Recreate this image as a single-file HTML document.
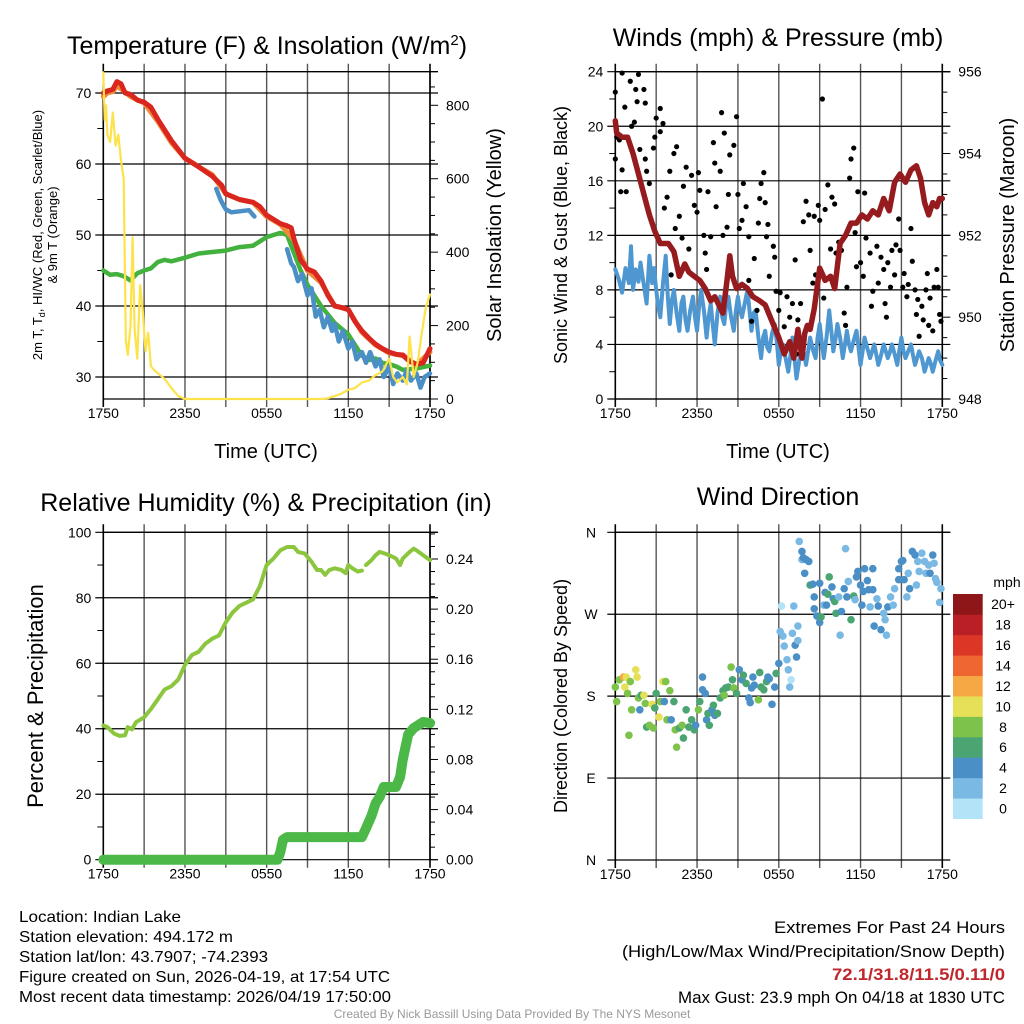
<!DOCTYPE html>
<html><head><meta charset="utf-8"><style>
html,body{margin:0;padding:0;background:#fff;}
svg{display:block;font-family:"Liberation Sans",sans-serif;}
</style></head><body>
<svg id="fig" width="1024" height="1024" viewBox="0 0 1024 1024">
<text x="267" y="54" font-size="25" text-anchor="middle">Temperature (F) &amp; Insolation (W/m<tspan dy="-9" font-size="15">2</tspan><tspan dy="9">)</tspan></text>
<text x="778" y="46" font-size="25" text-anchor="middle">Winds (mph) &amp; Pressure (mb)</text>
<text x="266" y="511" font-size="25" text-anchor="middle">Relative Humidity (%) &amp; Precipitation (in)</text>
<text x="778" y="505" font-size="25" text-anchor="middle">Wind Direction</text>

<text x="266" y="458" font-size="20" text-anchor="middle">Time (UTC)</text>
<text x="778" y="458" font-size="20" text-anchor="middle">Time (UTC)</text>

<text transform="translate(42,235) rotate(-90)" font-size="13" text-anchor="middle">2m T, T<tspan font-size="9" dy="3">d</tspan><tspan dy="-3">, HI/WC (Red, Green, Scarlet/Blue)</tspan></text>
<text transform="translate(57,235) rotate(-90)" font-size="13" text-anchor="middle">&amp; 9m T (Orange)</text>
<text transform="translate(501,235) rotate(-90)" font-size="20" text-anchor="middle">Solar Insolation (Yellow)</text>
<text transform="translate(567,235) rotate(-90)" font-size="18" text-anchor="middle">Sonic Wind &amp; Gust (Blue, Black)</text>
<text transform="translate(1014,235) rotate(-90)" font-size="20" text-anchor="middle">Station Pressure (Maroon)</text>
<text transform="translate(43,696) rotate(-90)" font-size="22" text-anchor="middle">Percent &amp; Precipitation</text>
<text transform="translate(567,696) rotate(-90)" font-size="18" text-anchor="middle">Direction (Colored By Speed)</text>

<g font-size="16">
<text x="19" y="922" textLength="162" lengthAdjust="spacingAndGlyphs">Location: Indian Lake</text>
<text x="19" y="942" textLength="214" lengthAdjust="spacingAndGlyphs">Station elevation: 494.172 m</text>
<text x="19" y="962" textLength="249" lengthAdjust="spacingAndGlyphs">Station lat/lon: 43.7907; -74.2393</text>
<text x="19" y="982" textLength="371" lengthAdjust="spacingAndGlyphs">Figure created on Sun, 2026-04-19, at 17:54 UTC</text>
<text x="19" y="1002" textLength="372" lengthAdjust="spacingAndGlyphs">Most recent data timestamp: 2026/04/19 17:50:00</text>
</g>
<g font-size="17">
<text x="774" y="933" textLength="231" lengthAdjust="spacingAndGlyphs">Extremes For Past 24 Hours</text>
<text x="622" y="957" textLength="383" lengthAdjust="spacingAndGlyphs">(High/Low/Max Wind/Precipitation/Snow Depth)</text>
<text x="832" y="980" textLength="173" lengthAdjust="spacingAndGlyphs" fill="#c0272d" font-weight="bold">72.1/31.8/11.5/0.11/0</text>
<text x="678" y="1003" textLength="327" lengthAdjust="spacingAndGlyphs">Max Gust: 23.9 mph On 04/18 at 1830 UTC</text>
</g>
<text x="512" y="1018" font-size="12" fill="#999" text-anchor="middle">Created By Nick Bassill Using Data Provided By The NYS Mesonet</text>
</svg>
<script>
// ---- data (hours since 1750 UTC) ----
const xTickLabels = ["1750","2350","0550","1150","1750"];
const tempH = [0,0.3,0.7,1,1.3,1.6,2,2.5,3,3.5,4,5,6,7,8,8.7,9,10,11,11.5,12,12.5,13,13.5,13.8,14,14.5,15,15.5,16,16.5,17,17.5,18,18.5,19,19.5,20,20.5,21,21.5,22,22.5,23,23.5,24];
const tempV = [70,70.3,70.5,71.6,71.3,70,69.8,69,68.7,68,66.3,63.3,60.8,59.6,58.3,57,55.8,55,54.6,54,52.8,52.2,51.6,51.3,51,49.5,46.5,45.2,44.8,43.5,41.5,40,39.8,39.5,37.8,36.5,35.5,34.6,34,33.5,33.2,33.1,32.2,31.8,32,34];
const t9H = [0,0.3,0.7,1,1.5,2,3,4,5,6,7,8,9,10,11,12,13,14,15,16,17,18,19,20,21,22,23,24];
const t9V = [69.5,70,70.2,71,70.3,69.5,68.6,66,63,60.8,59.6,58.5,55.8,55,54.6,52.6,51.5,49.3,45,43.3,40,39.5,36.3,34.5,33.4,33,31.7,33.5];
const dewH = [0,0.5,1,1.5,2,2.5,3,3.5,4,4.5,5,6,7,8,9,10,11,12,12.5,13,13.5,14,14.5,15,15.5,16,17,18,18.5,19,19.5,20,20.5,21,21.5,22,23,24];
const dewV = [45,44.4,44.5,44.2,43.6,44.6,45,45.3,46.2,46.5,46.3,46.8,47.4,47.6,47.8,48.3,48.5,49.7,50,50.3,50,47.5,45,43,41.5,40,37.6,36,34.5,33,32.4,32.6,32,31.8,31.5,31,31.2,31.6];
const wcH = [13.5,13.8,14,14.3,14.6,15,15.3,15.6,15.9,16.2,16.5,16.8,17,17.3,17.6,18,18.3,18.6,19,19.3,19.6,20,20.3,20.6,21,21.3,21.6,22,22.3,22.6,23,23.3,23.6,24];
const wcV = [48,46,45.5,43.5,44.5,41.5,42.5,38.5,39.5,37,38.5,36.5,37.5,35,36.5,34,35,32.5,33.5,32,33.5,31.5,32.5,30,31.5,29,30.5,29.5,31,29.5,30.5,28.5,30,30.5];
const wcSegH = [8.3,8.6,9,9.4,10.7,11.1];
const wcSegV = [56.5,55,53.6,53.2,53.5,52.6];
const solH = [0,0.1,0.2,0.3,0.5,0.7,0.9,1.1,1.3,1.5,1.65,1.8,2,2.15,2.3,2.5,2.7,2.9,3.1,3.3,3.5,3.7,4,4.5,5,5.5,6,9,12,16,16.5,17,17.5,18,18.5,19,19.5,20,20.5,21,21.3,21.6,22,22.3,22.5,22.8,23.1,23.4,23.7,24];
const solV = [890,760,800,720,700,780,690,720,650,600,160,120,200,440,190,110,310,240,130,180,90,80,70,55,30,8,0,0,0,0,2,8,15,25,30,45,50,65,75,110,60,45,60,40,170,60,100,180,250,285];

const windH = [0,0.25,0.5,0.75,1,1.15,1.3,1.5,1.7,1.85,2,2.15,2.3,2.5,2.7,2.85,3,3.15,3.3,3.5,3.7,3.85,4,4.15,4.3,4.5,4.7,4.85,5,5.15,5.3,5.5,5.7,5.85,6,6.15,6.3,6.5,6.7,6.85,7,7.15,7.3,7.5,7.7,7.85,8,8.15,8.3,8.5,8.7,8.85,9,9.15,9.3,9.5,9.7,9.85,10,10.15,10.3,10.5,10.7,10.85,11,11.15,11.3,11.5,11.7,11.85,12,12.15,12.3,12.5,12.7,12.85,13,13.15,13.3,13.5,13.7,13.85,14,14.15,14.3,14.5,14.7,14.85,15,15.15,15.3,15.5,15.7,15.85,16,16.15,16.3,16.5,16.7,16.85,17,17.15,17.3,17.5,17.7,17.85,18,18.15,18.3,18.5,18.7,18.85,19,19.15,19.3,19.5,19.7,19.85,20,20.15,20.3,20.5,20.7,20.85,21,21.15,21.3,21.5,21.7,21.85,22,22.15,22.3,22.5,22.7,22.85,23,23.15,23.3,23.5,23.7,23.85,24];
const windV = [9.5,8.8,7.8,9.6,8.5,11.2,8,9.5,8.6,10,9,8,7,10.5,8.5,9.6,8,6.8,6,8.5,10.5,7.5,5.5,7.2,8,6.3,5,7,7.5,5.8,5,6.5,7.5,6,5,6.8,8,6.5,4.5,6,7,5.5,4,6.3,7.5,6,5.5,7,7.5,6,5,6.5,7.5,6.5,6,7,8,6.5,5,6.3,6.5,4.5,3,4.5,5,3.8,3.5,4.8,5.5,4.2,2.5,3.5,4,3,2,3.2,4.5,3,1.5,2.8,4,3.3,2.5,3.5,4.5,3.6,3,4.5,5.5,4.2,3,4.5,6.5,5,3.5,4.3,5.5,4.5,3,4,5,4,3.5,4.3,5,3.8,2.5,3.5,4.5,3.7,3,3.5,4,3.3,2.5,3.2,4,3.5,3,3.4,4,3.3,2.5,3.6,4.5,3.5,3,3.5,4,3.2,2.5,3,3.5,3,2,2.5,3,2.6,2,2.8,3.5,2.8,2.5];
const gustH = [0,0,0.1,0.3,0.4,0.5,0.5,0.7,0.8,1.1,1.2,1.4,1.5,1.6,1.7,1.8,2.1,2.2,2.2,2.3,2.5,2.8,2.9,3.0,3.3,3.5,3.3,3.6,3.8,4,4.1,4.3,4.4,4.5,4.7,4.9,5.0,5.2,5.4,5.6,5.8,6,6.1,6.2,6.5,6.6,6.7,6.8,7,7.2,7.3,7.4,7.7,7.8,7.9,8.0,8.2,8.3,8.4,8.7,8.9,9.0,9.1,9.3,9.4,9.6,9.8,9.8,10,10.2,10.4,10.5,10.6,10.7,10.9,11,11.1,11.2,11.3,11.6,11.7,11.8,12,12.1,12.3,12.4,12.6,12.8,13,13.2,13.3,13.4,13.6,13.8,14,14.2,14.3,14.5,14.6,14.7,14.9,15,15.2,15.3,15.4,15.6,15.8,15.9,16.1,16.2,16.4,16.6,16.8,16.9,17,17.2,17.3,17.5,17.6,17.7,17.8,18,18.2,18.3,18.4,18.7,18.8,18.9,19.2,19.3,19.5,19.7,19.8,19.9,20,20.2,20.3,20.5,20.6,20.8,20.9,21.1,21.2,21.4,21.5,21.7,21.8,22,22.1,22.2,22.3,22.5,22.6,22.8,22.9,23,23.1,23.3,23.4,23.6,23.7,23.8,23.9];
const gustV = [22.5,17.6,19.2,19,15.2,23.9,16.8,21.4,15.2,23.3,20,20.3,22.7,21.8,23.8,18.3,22.7,21.7,17.6,16.7,15.8,18.4,19.2,20.6,21.3,20.2,19.6,14,14.8,16.7,9.1,18,12.5,18.5,13.4,11.8,15.6,17,11,16.4,14.2,13.7,16.6,15.3,12,10.7,9.5,15.2,11.9,18.8,17.3,14.1,16.7,21,12,19.5,12.6,15,17.9,18.6,20.7,15,12.5,13.1,15.8,14.1,11.9,8.7,5.7,10.3,6.5,12.9,14.7,15.8,16.6,14.4,11.9,12.8,9,11.2,10.4,7.9,6.5,7.8,3.7,5.3,7.5,6,7,10.2,3.3,5.8,7,13,14.5,13.5,10.9,8.5,13.4,9.1,14.2,13.1,22,7.4,13.9,15.7,11,14.8,14.3,10.7,11.5,10.9,6.3,5.4,8.2,16.2,17.6,18.4,12.2,9.7,15.2,10,9,15.1,11.8,10.7,6.8,7.9,11.2,8.5,10.4,9.5,7,6,10,8.2,10.9,9.1,11.3,13.2,10.9,8.2,9.2,7.5,8.4,12.5,10.1,8,6.2,7.3,4.6,6.8,5.8,8,9.2,5.4,7.4,5,8.2,9.5,8.2,6.2,5.7];
const presH = [0,0.1,0.5,0.9,1.3,1.7,2.1,2.5,2.9,3.3,3.9,4.3,4.7,5.1,5.4,5.8,6.2,6.6,7.0,7.3,7.6,7.9,8.2,8.4,8.6,8.9,9.3,9.7,10.1,10.6,11.0,11.5,12.0,12.4,12.8,13.1,13.4,13.7,13.9,14.1,14.3,14.6,15.0,15.4,15.8,16.1,16.5,16.9,17.3,17.7,18.1,18.5,18.9,19.3,19.7,20.1,20.5,20.9,21.3,21.7,22.1,22.4,22.7,23.0,23.3,23.6,23.8,24];
const presV = [954.8,954.5,954.4,954.4,954.0,953.5,953.0,952.5,952.1,951.8,951.8,951.6,951.0,951.3,951.1,951.0,950.9,950.7,950.4,950.5,950.3,950.1,950.9,951.5,951.0,950.7,950.8,950.7,950.5,950.4,950.3,949.9,949.5,949.1,949.4,949.0,949.7,949.0,949.6,949.8,949.7,950.2,951.2,950.9,951.0,950.7,951.8,952.0,952.3,952.3,952.5,952.4,952.6,952.5,952.9,952.6,953.3,953.5,953.3,953.6,953.7,953.4,952.8,952.5,952.8,952.7,952.9,952.9];
const presTicks = [948,950,952,954,956];
const windTicks = [0,4,8,12,16,20,24];

const rhH = [0,0.3,0.8,1.2,1.6,1.8,2.1,2.4,3,3.5,4,4.5,5,5.5,6,6.5,7,7.5,8,8.5,9,9.5,10,10.5,11,11.5,12,12.5,13,13.5,14,14.3,14.8,15.3,15.7,16,16.3,16.6,17,17.5,17.8,18,18.3,18.7,19];
const rhV = [41,40.5,38.5,37.8,38,40.5,39.8,42,43.5,46,49,52,53,55,59.5,62.5,63.5,66,67.5,68.5,72.5,75.5,77.5,78.5,79.5,83.5,90,92,94.5,95.5,95.5,94,93.5,91,88.5,88.5,87,88.5,89,88.5,87.5,90,89,88,88.3];
const rhH2 = [19.3,19.7,20,20.3,20.7,21,21.5,21.8,22,22.5,22.8,23,23.5,24];
const rhV2 = [90,91.5,93,94,93.5,93,92,90,92,94,95,94.5,93,91.5];
const pcpH = [0,12.8,13.0,13.2,13.5,19.0,19.3,19.7,20.0,20.3,20.6,21.5,21.8,22.0,22.2,22.4,22.8,23.5,24];
const pcpV = [0,0,0.006,0.016,0.018,0.018,0.025,0.035,0.045,0.05,0.058,0.058,0.066,0.08,0.09,0.1,0.105,0.11,0.109];

const dirH = [0,0.1,0.3,0.6,0.7,0.8,0.9,1,1.1,1.2,1.5,1.6,1.7,1.8,1.9,2.1,2.2,2.3,2.5,2.7,2.8,2.9,3.0,3.2,3.3,3.5,3.6,3.7,3.8,4.0,4.1,4.3,4.4,4.5,4.7,4.9,5.0,5.2,5.4,5.6,5.8,5.9,6.1,6.2,6.4,6.4,6.6,6.7,6.8,6.9,7.1,7.2,7.3,7.5,7.7,7.9,8.0,8.1,8.3,8.5,8.6,8.7,8.9,9.1,9.3,9.4,9.6,9.8,9.9,10.0,10.1,10.2,10.5,10.6,10.7,10.9,11.1,11.2,11.3,11.5,11.7,11.8,12.0,12.1,12.2,12.3,12.4,12.6,12.7,12.8,12.9,13,13.1,13.2,13.3,13.4,13.4,13.5,13.7,13.7,13.8,13.9,14.0,14.2,14.3,14.5,14.6,14.6,14.8,15.0,15.0,15.1,15.3,15.4,15.5,15.6,15.7,15.9,16.0,16.1,16.2,16.4,16.5,16.6,16.8,16.9,17.0,17.1,17.3,17.5,17.6,17.7,17.8,18.0,18.1,18.2,18.3,18.5,18.6,18.7,18.9,18.9,19.0,19.2,19.3,19.5,19.7,19.8,19.9,20,20.2,20.4,20.5,20.8,20.8,21.0,21.1,21.2,21.4,21.5,21.6,21.8,22.0,22.1,22.2,22.3,22.5,22.7,22.8,23.0,23.1,23.3,23.4,23.5,23.6,23.8,23.9];
const dirV = [190,174,198,201,190,201,183,137,196,165,209,201,178,165,181,181,172,146,148,171,145,167,183,157,174,196,174,196,154,186,154,174,143,124,145,148,134,165,146,154,143,148,165,174,201,187,183,154,161,148,165,170,159,161,178,186,181,189,190,212,198,189,183,209,198,203,194,178,173,189,201,192,176,206,190,187,196,201,199,171,190,205,216,251,279,246,235,220,209,190,198,249,279,236,223,241,257,350,339,330,332,315,330,328,302,303,289,276,268,304,261,267,280,294,280,292,311,300,287,284,271,289,247,273,298,342,289,306,264,290,286,311,317,302,280,295,320,307,297,278,320,297,257,287,279,253,271,264,247,278,289,280,298,320,308,328,329,308,289,315,298,339,335,302,328,317,337,328,315,324,315,335,326,309,305,283,298];
const dirS = [8,8,8,12,10,10,8,8,8,8,10,10,8,4,6,10,8,6,8,10,8,6,6,10,8,10,4,8,8,8,4,6,8,8,6,8,6,6,6,6,6,4,8,6,4,4,4,4,6,6,4,6,4,6,6,6,8,6,6,8,6,8,6,4,4,6,6,4,4,4,4,4,8,6,6,6,6,4,4,4,4,6,4,2,0,2,2,2,2,2,0,2,2,4,4,2,2,2,4,2,4,4,4,4,6,4,4,4,4,4,4,6,2,4,4,6,6,4,4,6,6,2,2,4,4,2,4,2,6,6,2,4,4,4,4,4,4,4,4,2,4,4,4,2,4,4,2,2,2,4,2,2,2,4,4,4,4,4,2,2,4,4,4,2,2,2,2,2,2,2,4,4,2,2,2,2,2,2];
const cbLabels = ["0","2","4","6","8","10","12","14","16","18","20+"];
const cbColors = ["#b3e3f7","#7ab9e3","#4a8fc6","#4aa572","#7dc24b","#e5e057","#f5a843","#ef6630","#dc3626","#bb1f26","#8f1618"];

// ---- helpers ----
const NS="http://www.w3.org/2000/svg";
const svg=document.getElementById('fig');
function mk(tag,attrs,parent){const e=document.createElementNS(NS,tag);for(const k in attrs)e.setAttribute(k,attrs[k]);(parent||svg).appendChild(e);return e;}
function lin(d0,d1,r0,r1){return v=>r0+(v-d0)*(r1-r0)/(d1-d0);}
function pathFrom(xs,ys,fx,fy){return xs.map((h,i)=>(i?'L':'M')+fx(h).toFixed(1)+','+fy(ys[i]).toFixed(1)).join('');}
function colorFor(s){if(s===undefined)s=2;let i=Math.min(10,Math.max(0,Math.round(s/2)));return cbColors[i];}

function frame(P,name){
  const g=mk('g',{});
  
  
  for(let h=0;h<=24;h+=3){const x=P.fx(h);
    const l=mk('line',{x1:x,x2:x,y1:P.top-8,y2:P.bot+8,stroke:(h%24==0)?'#000':'#555','stroke-width':(h%24==0)?1.6:1.4},g);
    
    
  }
  xTickLabels.forEach((t,i)=>{const tx=mk('text',{x:P.fx(i*6),y:P.bot+19,'font-size':14,'text-anchor':'middle'},g);tx.textContent=t;
    
    });
  mk('line',{x1:P.left,x2:P.right+8,y1:P.top,y2:P.top,stroke:'#000','stroke-width':1.3},g);
  return g;
}
function hgrid(g,P,y,ext){const l=mk('line',{x1:P.left-8,x2:P.right+(ext||8),y1:y,y2:y,stroke:'#000','stroke-width':1.2},g);
  
  }
function lab(g,x,y,t,anchor,name){const e=mk('text',{x:x,y:y+5,'font-size':14,'text-anchor':anchor},g);e.textContent=t;
  
  }
function tick(g,x1,x2,y){mk('line',{x1:x1,x2:x2,y1:y,y2:y,stroke:'#000','stroke-width':1},g);}
function line(P,xs,ys,fy,color,w,name){const p=mk('path',{d:pathFrom(xs,ys,P.fx,fy),fill:'none',stroke:color,'stroke-width':w,'stroke-linejoin':'round','stroke-linecap':'round'});
  
  return p;}

// ---- Panel 1 ----
const P1={left:103.3,right:430,top:71.7,bot:399};P1.fx=lin(0,24,P1.left,P1.right);
const y1=lin(30,70,377,93), y1r=lin(0,800,399,105.3);
let g=frame(P1,'temperature');
[30,40,50,60,70].forEach(v=>{hgrid(g,P1,y1(v));lab(g,P1.left-12,y1(v),v,'end','temp-tick-label');});
[35,45,55,65].forEach(v=>tick(g,P1.left-6,P1.left,y1(v)));
for(let v=0;v<=850;v+=50){tick(g,P1.right,P1.right+(v%200==0?8:5),y1r(v));}
[0,200,400,600,800].forEach(v=>lab(g,P1.right+16,y1r(v),v,'start','insolation-tick-label'));
mk('line',{x1:P1.left,x2:P1.right,y1:P1.bot,y2:P1.bot,stroke:'#000','stroke-width':1.3},g);
mk('line',{x1:P1.right,x2:P1.right,y1:P1.top,y2:P1.bot,stroke:'#000','stroke-width':1.3},g);
line(P1,dewH,dewV,y1,'#43b13d',4.5,'dewpoint-line');
line(P1,wcSegH,wcSegV,y1,'#4a8fc6',4.5,'windchill-segment');
line(P1,wcH,wcV,y1,'#4a8fc6',4.5,'windchill-line');
line(P1,t9H,t9V,y1,'#f08a3a',5,'temp-9m-line');
line(P1,tempH,tempV,y1,'#d9261f',5,'temperature-line');
line(P1,solH,solV,y1r,'#fde24a',2.2,'insolation-line');

// ---- Panel 2 ----
const P2={left:615.3,right:942.3,top:71.7,bot:399};P2.fx=lin(0,24,P2.left,P2.right);
const y2=lin(0,24,399,71.7), y2r=lin(948,956,399,71.7);
g=frame(P2,'winds');
windTicks.forEach(v=>{hgrid(g,P2,y2(v));lab(g,P2.left-12,y2(v),v,'end','wind-tick-label');});
for(let v=2;v<24;v+=4)tick(g,P2.left-6,P2.left,y2(v));
for(let v=948;v<=956;v+=0.5)tick(g,P2.right,P2.right+((v%2==0)?8:5),y2r(v));
presTicks.forEach(v=>lab(g,P2.right+16,y2r(v),v,'start','pressure-tick-label'));
mk('line',{x1:P2.left,x2:P2.right,y1:P2.bot,y2:P2.bot,stroke:'#000','stroke-width':1.3},g);
mk('line',{x1:P2.right,x2:P2.right,y1:P2.top,y2:P2.bot,stroke:'#000','stroke-width':1.3},g);
line(P2,windH,windV,y2,'#4f97d1',4,'wind-speed-line');
gustH.forEach((h,i)=>{const c=mk('circle',{cx:P2.fx(h),cy:y2(gustV[i]),r:2.6,fill:'#000'});
  
  });
line(P2,presH,presV,y2r,'#951b1e',5.5,'pressure-line');

// ---- Panel 3 ----
const P3={left:103.3,right:430,top:532.3,bot:859.7};P3.fx=lin(0,24,P3.left,P3.right);
const y3=lin(0,100,859.7,532.3), y3r=lin(0,0.24,859.7,559);
g=frame(P3,'humidity');
[0,20,40,60,80,100].forEach(v=>{hgrid(g,P3,y3(v),v==100?0:8);lab(g,P3.left-12,y3(v),v,'end','humidity-tick-label');});
[10,30,50,70,90].forEach(v=>tick(g,P3.left-6,P3.left,y3(v)));
for(let i=0;i<=26;i++){const v=i*0.01;tick(g,P3.right,P3.right+(i%4==0?8:5),y3r(v));}
[0,0.04,0.08,0.12,0.16,0.20,0.24].forEach(v=>lab(g,P3.right+16,y3r(v),v.toFixed(2),'start','precip-tick-label'));
mk('line',{x1:P3.right,x2:P3.right,y1:P3.top,y2:P3.bot,stroke:'#000','stroke-width':1.3},g);
line(P3,pcpH,pcpV,y3r,'#4bb847',10,'precipitation-line');
line(P3,rhH,rhV,y3,'#8cc63f',4,'humidity-line');
line(P3,rhH2,rhV2,y3,'#8cc63f',4,'humidity-line-2');

// ---- Panel 4 ----
const P4={left:615.3,right:942.3,top:532.3,bot:860};P4.fx=lin(0,24,P4.left,P4.right);
const y4=lin(0,360,860,532.3);
g=frame(P4,'direction');
[[0,'N'],[90,'E'],[180,'S'],[270,'W'],[360,'N']].forEach(([v,t])=>{hgrid(g,P4,y4(v));lab(g,591,y4(v),t,'middle','direction-tick-label');});
dirH.forEach((h,i)=>{if(dirV[i]===undefined)return;const c=mk('circle',{cx:P4.fx(h),cy:y4(dirV[i]),r:3.8,fill:colorFor(dirS[i])});
  
  });
const cb=mk('g',{});


const cbTop=594, cbH=224.7/11;
cbColors.forEach((c,i)=>{const y=cbTop+(10-i)*cbH;
  const r=mk('rect',{x:953,y:y,width:29.7,height:cbH+0.3,fill:c},cb);
  
  
  const t=mk('text',{x:1003,y:y+cbH/2+5,'font-size':14,'text-anchor':'middle'},cb);t.textContent=cbLabels[i];
  
  });
const mph=mk('text',{x:1007,y:587,'font-size':14,'text-anchor':'middle'},cb);mph.textContent='mph';


</script>
</body></html>
